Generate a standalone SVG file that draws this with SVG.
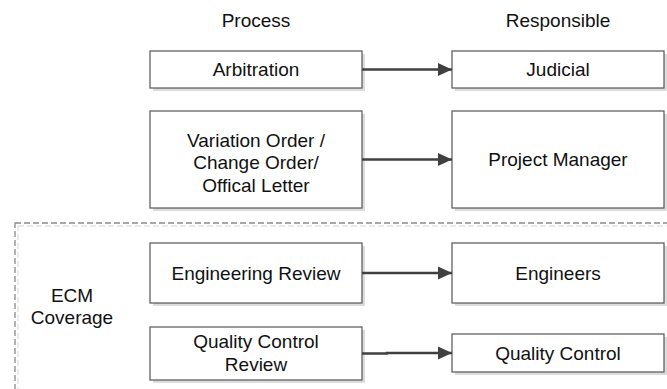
<svg xmlns="http://www.w3.org/2000/svg" width="667" height="389" viewBox="0 0 667 389">
  <style>
    text { font-family: "Liberation Sans", Arial, sans-serif; font-size: 19px; fill: #111; text-anchor: middle; }
    .box { fill: #fff; stroke: #555; stroke-width: 1.2; }
    .shadow { fill: #dcdcdc; }
    .conn { stroke: #404040; stroke-width: 2.5; fill: none; marker-end: url(#arrow); }
  </style>
  <defs>
    <marker id="arrow" markerUnits="userSpaceOnUse" markerWidth="14" markerHeight="13" refX="14" refY="6.5" orient="auto">
      <path d="M0,0 L14,6.5 L0,13 z" fill="#404040"/>
    </marker>
  </defs>
  <rect width="667" height="389" fill="#fff"/>

  <g id="ecm-group">
    <rect x="18" y="226" width="680" height="200" fill="none" stroke="#e2e2e2" stroke-width="1.3" stroke-dasharray="6,3"/>
    <rect x="15" y="223" width="680" height="200" fill="none" stroke="#8a8a8a" stroke-width="1.3" stroke-dasharray="6,3"/>
    <text x="72" y="302">ECM</text>
    <text x="72" y="324">Coverage</text>
  </g>

  <text x="256" y="27">Process</text>
  <text x="558" y="27">Responsible</text>

  <g id="arbitration">
    <rect class="shadow" x="153" y="54" width="212" height="37"/>
    <rect class="box" x="150" y="51" width="212" height="37"/>
    <text x="256" y="76">Arbitration</text>
  </g>
  <g id="judicial">
    <rect class="shadow" x="455" y="54" width="212" height="37"/>
    <rect class="box" x="452" y="51" width="212" height="37"/>
    <text x="558" y="76">Judicial</text>
  </g>

  <g id="variation-order">
    <rect class="shadow" x="153" y="114" width="212" height="97"/>
    <rect class="box" x="150" y="111" width="212" height="97"/>
    <text x="256" y="147">Variation Order /</text>
    <text x="256" y="169">Change Order/</text>
    <text x="256" y="191.5">Offical Letter</text>
  </g>
  <g id="project-manager">
    <rect class="shadow" x="455" y="114" width="212" height="97"/>
    <rect class="box" x="452" y="111" width="212" height="97"/>
    <text x="558" y="166">Project Manager</text>
  </g>

  <g id="engineering-review">
    <rect class="shadow" x="153" y="246" width="212" height="60"/>
    <rect class="box" x="150" y="243" width="212" height="60"/>
    <text x="256" y="280">Engineering Review</text>
  </g>
  <g id="engineers">
    <rect class="shadow" x="455" y="246" width="212" height="60"/>
    <rect class="box" x="452" y="243" width="212" height="60"/>
    <text x="558" y="280">Engineers</text>
  </g>

  <g id="quality-control-review">
    <rect class="shadow" x="153" y="330" width="212" height="53"/>
    <rect class="box" x="150" y="327" width="212" height="53"/>
    <text x="256" y="348">Quality Control</text>
    <text x="256" y="371">Review</text>
  </g>
  <g id="quality-control">
    <rect class="shadow" x="455" y="337" width="212" height="38"/>
    <rect class="box" x="452" y="334" width="212" height="38"/>
    <text x="558" y="360">Quality Control</text>
  </g>

  <g id="connectors">
    <line class="conn" x1="362" y1="69.5" x2="452" y2="69.5"/>
    <line class="conn" x1="362" y1="159.5" x2="452" y2="159.5"/>
    <line class="conn" x1="362" y1="273" x2="452" y2="273"/>
    <path class="conn" d="M362,353.5 L387,353.5 L387,353 L452,353"/>
  </g>
</svg>
